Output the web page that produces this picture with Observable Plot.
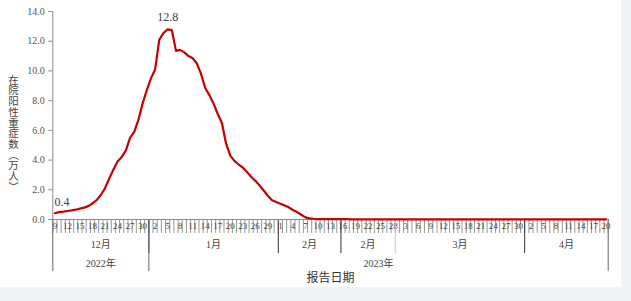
<!DOCTYPE html>
<html><head><meta charset="utf-8">
<script src="https://cdn.jsdelivr.net/npm/d3@7"></script>
<script src="https://cdn.jsdelivr.net/npm/@observablehq/plot@0.6"></script>
<style>
html,body{margin:0;padding:0;background:#f1f3f6;width:631px;height:301px;overflow:hidden}
#chart{position:absolute;left:0;top:0;width:621px;height:287px;background:#fff}
#chart svg text{font-family:"Liberation Serif","Times New Roman","DejaVu Serif",serif,"Noto Sans CJK SC"}
#chart svg text.cjk{font-family:"Noto Sans CJK SC",sans-serif}
</style></head><body><div id="chart"></div>
<script>
// daily report dates: 2022-12-09 .. 2023-04-20
const dates = d3.utcDay.range(new Date(Date.UTC(2022, 11, 9)), new Date(Date.UTC(2023, 3, 21)));

// 在院阳性重症数（万人）, one value per day
const decValues = [0.42,0.5,0.53,0.57,0.61,0.66,0.73,0.8,0.9,1.08,1.3,1.65,2.1,2.75,3.35,3.9,4.2,4.65,5.5,5.9,6.7,7.8,8.7];
const janValues = [9.5,10.1,12.1,12.55,12.8,12.75,11.35,11.42,11.25,11.0,10.85,10.5,9.8,8.85,8.37,7.8,7.1,6.5,5.1,4.3,3.95,3.7,3.5,3.2,2.88,2.6,2.3,1.95,1.6,1.3,1.18];
const febValues = [1.06,0.95,0.82,0.64,0.5,0.32,0.14,0.08,0.05,0.03,0.02,0.02,0.02,0.02,0.02,0.02,0.02,0.01,0.01,0.01,0.01,0.01,0.01,0.01,0.01,0.01,0.01,0.01];
const marValues = [0.01,0.01,0.01,0.01,0.01,0.01,0.01,0.01,0.01,0.01,0.01,0.01,0.01,0.01,0.01,0.01,0.01,0.01,0.01,0.01,0.01,0.01,0.01,0.01,0.01,0.01,0.01,0.01,0.01,0.01,0.01];
const aprValues = [0.01,0.01,0.01,0.01,0.01,0.01,0.01,0.01,0.01,0.01,0.01,0.01,0.01,0.01,0.01,0.01,0.01,0.01,0.01,0.01];
const values = [...decValues, ...janValues, ...febValues, ...marValues, ...aprValues];

const yTicks = [0, 2, 4, 6, 8, 10, 12, 14];
const groupLabels = ["12月", "1月", "2月", "2月", "3月", "4月"];
const groupStarts = ["2022-12-09", "2023-01-01", "2023-02-01", "2023-02-16", "2023-03-01", "2023-04-01"];
const yearLabels = ["2022年", "2023年"];
const yearStarts = ["2022-12-09", "2023-01-01"];
const yTitle = "在院阳性重症数（万人）";
const xTitle = "报告日期";

const data = dates.map((d, i) => ({i, date: d, v: values[i]}));
const n = dates.length;
const idxOf = s => dates.findIndex(d => d3.utcFormat("%Y-%m-%d")(d) === s);
const gIdx = groupStarts.map(idxOf);
const yIdx = yearStarts.map(idxOf);
const gMid = gIdx.map((s, k) => ((s - 0.5) + ((k + 1 < gIdx.length ? gIdx[k + 1] : n) - 0.5)) / 2);
const yMid = yIdx.map((s, k) => ((s - 0.5) + ((k + 1 < yIdx.length ? yIdx[k + 1] : n) - 0.5)) / 2);
const gMidLabel = new Map(gMid.map((m, k) => [m, groupLabels[k]]));
const yMidLabel = new Map(yMid.map((m, k) => [m, yearLabels[k]]));
const dayBounds = d3.range(n + 1).map(k => k - 0.5);
const dayLabelIdx = d3.range(0, n, 3);
const darkGroupBounds = gIdx.slice(1).filter((s, k) => groupLabels[k + 1] !== "3月").map(s => s - 0.5);
const lightGroupBounds = gIdx.slice(1).filter((s, k) => groupLabels[k + 1] === "3月").map(s => s - 0.5);
const yearBounds = [...yIdx.map(s => s - 0.5), n - 0.5];
const peak = d3.maxIndex(values);
const fmt = d3.format(".1f");

const chart = Plot.plot({
  width: 621,
  height: 287,
  marginLeft: 52.3,
  marginRight: 13.3,
  marginTop: 11,
  marginBottom: 68,
  style: {background: "transparent", overflow: "visible"},
  x: {type: "linear", domain: [-0.5, n - 0.5]},
  y: {domain: [0, 14]},
  marks: [
    Plot.axisY(yTicks, {tickSize: 4, tickPadding: 4, tickFormat: d3.format(".1f"), fontSize: 10, fill: "#555", stroke: "#8c8c8c", label: null}),
    Plot.axisX(dayBounds, {tickSize: 14, tickFormat: () => "", stroke: "#6a6a6a", strokeWidth: 0.7, label: null}),
    Plot.axisX(dayLabelIdx, {tickSize: 0, tickPadding: 3, tickFormat: i => dates[i].getUTCDate(), fontSize: 9, fill: "#444", label: null}),
    Plot.axisX(darkGroupBounds, {tickSize: 34, tickFormat: () => "", stroke: "#333", strokeWidth: 1, label: null}),
    Plot.axisX(lightGroupBounds, {tickSize: 34, tickFormat: () => "", stroke: "#c8c8c8", strokeWidth: 1, label: null}),
    Plot.axisX(yearBounds, {tickSize: 52, tickFormat: () => "", stroke: "#666", strokeWidth: 1, label: null}),
    Plot.axisX(gMid, {tickSize: 0, tickPadding: 21, tickFormat: m => gMidLabel.get(m), fontSize: 10, fill: "#444", label: null}),
    Plot.axisX(yMid, {tickSize: 0, tickPadding: 40, tickFormat: m => yMidLabel.get(m), fontSize: 10, fill: "#444", label: null}),
    Plot.ruleY([0], {stroke: "#8c8c8c"}),
    Plot.ruleX([-0.5], {stroke: "#8c8c8c"}),
    Plot.line(data, {x: "i", y: "v", stroke: "#c80000", strokeWidth: 2.2, strokeLinejoin: "round"}),
    Plot.text([data[0]], {x: "i", y: "v", text: d => fmt(d.v), dx: 7, dy: -11, fontSize: 12, fill: "#404040"}),
    Plot.text([data[peak]], {x: "i", y: "v", text: d => fmt(d.v), dy: -12, fontSize: 12, fill: "#404040"}),
    Plot.text([yTitle], {frameAnchor: "left", textAnchor: "middle", dx: -39.3, dy: 14.5, fontSize: 10.5, fill: "#444"}),
    Plot.text([xTitle], {frameAnchor: "bottom", dy: 62, fontSize: 12, fill: "#333"})
  ]
});
// vertical, upright CJK writing for the y title; CJK font for both titles
d3.select(chart).selectAll("text").each(function() {
  const t = this.textContent;
  if (t === yTitle) {
    d3.select(this).attr("class", "cjk").attr("writing-mode", "vertical-rl")
      .attr("dy", null).style("letter-spacing", "0.2px");
  } else if (t === xTitle) {
    d3.select(this).attr("class", "cjk");
  }
});
document.getElementById("chart").appendChild(chart);
</script>
</body></html>
